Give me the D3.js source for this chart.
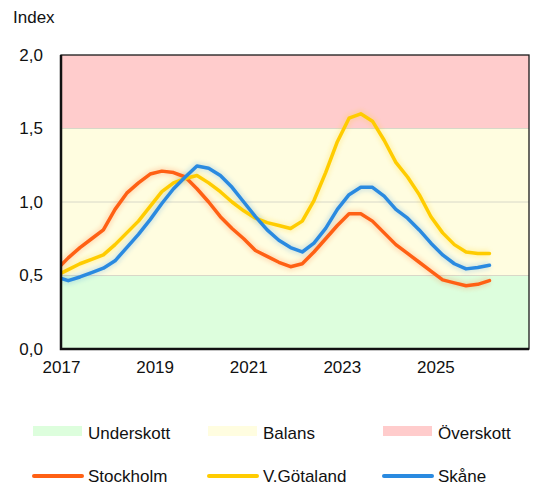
<!DOCTYPE html>
<html>
<head>
<meta charset="utf-8">
<script src="https://cdn.jsdelivr.net/npm/d3@7"></script>
<style>
  html, body { margin: 0; padding: 0; background: #fff; }
  svg { display: block; font-family: "Liberation Sans", Arial, sans-serif; }
</style>
</head>
<body>
<svg id="chart" width="549" height="486"></svg>
<script>
// quarters, plotted mid-quarter
const quarters = [
  '2016K4',
  '2017K1','2017K2','2017K3','2017K4','2018K1','2018K2','2018K3','2018K4',
  '2019K1','2019K2','2019K3','2019K4','2020K1','2020K2','2020K3','2020K4',
  '2021K1','2021K2','2021K3','2021K4','2022K1','2022K2','2022K3','2022K4',
  '2023K1','2023K2','2023K3','2023K4','2024K1','2024K2','2024K3','2024K4',
  '2025K1','2025K2','2025K3','2025K4','2026K1'
];

const stockholm = [0.54, 0.62, 0.69, 0.75, 0.81, 0.95, 1.06, 1.13, 1.19, 1.21, 1.20, 1.17,
  1.09, 1.00, 0.90, 0.82, 0.75, 0.67, 0.63, 0.59, 0.56, 0.58, 0.66, 0.75, 0.84, 0.92,
  0.92, 0.87, 0.79, 0.71, 0.65, 0.59, 0.53, 0.47, 0.45, 0.43, 0.44, 0.465];
const vgotaland = [0.50, 0.54, 0.58, 0.61, 0.64, 0.71, 0.79, 0.87, 0.97, 1.07, 1.13, 1.16,
  1.18, 1.13, 1.07, 1.00, 0.94, 0.89, 0.86, 0.84, 0.82, 0.87, 1.01, 1.20, 1.41, 1.57,
  1.60, 1.55, 1.42, 1.27, 1.17, 1.05, 0.90, 0.79, 0.71, 0.66, 0.65, 0.65];
const skane = [0.49, 0.465, 0.49, 0.52, 0.55, 0.60, 0.69, 0.78, 0.88, 0.99, 1.09, 1.17,
  1.245, 1.23, 1.18, 1.10, 1.00, 0.90, 0.81, 0.74, 0.69, 0.66, 0.72, 0.82, 0.95, 1.05,
  1.10, 1.10, 1.04, 0.95, 0.89, 0.81, 0.72, 0.64, 0.58, 0.545, 0.555, 0.57];

// zones: [from, to]
const zoneNames  = ['Underskott', 'Balans', 'Överskott'];
const zoneLimits = [[0, 0.5], [0.5, 1.5], [1.5, 2.0]];
const zoneColors = ['#ddfedd', '#fffde0', '#ffcccc'];

const seriesNames  = ['Stockholm', 'V.Götaland', 'Skåne'];
const seriesColors = ['#ff6014', '#ffcc00', '#2a8ae0'];
const seriesData   = [stockholm, vgotaland, skane];

const yTicks = [0, 0.5, 1.0, 1.5, 2.0];
const xTicks = [2017, 2019, 2021, 2023, 2025];

// ---------------------------------------------------------------------------
const svg = d3.select('#chart');
const L = 61, R = 529, T = 55, B = 349;

const x = d3.scaleLinear().domain([2017, 2027]).range([L, R]);
const y = d3.scaleLinear().domain([0, 2]).range([B, T]);
const sv = d3.formatLocale({ decimal: ',', thousands: ' ', grouping: [3], currency: ['', ' kr'] });
const fmt = sv.format('.1f');

const qTime = q => +q.slice(0, 4) + (+q.slice(5) - 1) / 4 + 0.155;

const defs = svg.append('defs');
defs.append('clipPath').attr('id', 'plot')
  .append('rect').attr('x', L).attr('y', T).attr('width', R - L).attr('height', B - T);
defs.append('filter').attr('id', 'glow').attr('x', '-10%').attr('y', '-10%').attr('width', '120%').attr('height', '120%')
  .append('feGaussianBlur').attr('stdDeviation', 2);

// zones
svg.append('g').selectAll('rect').data(zoneLimits).join('rect')
  .attr('x', L).attr('width', R - L)
  .attr('y', d => y(d[1])).attr('height', d => y(d[0]) - y(d[1]))
  .attr('fill', (d, i) => zoneColors[i]);

// gridlines
svg.append('g').selectAll('line').data(yTicks.slice(1, -1)).join('line')
  .attr('x1', L).attr('x2', R).attr('y1', d => y(d)).attr('y2', d => y(d))
  .attr('stroke', '#d8d8c8').attr('stroke-width', 1);

// lines
const line = d3.line().x((d, i) => x(qTime(quarters[i]))).y(d => y(d));
const lg = svg.append('g').attr('clip-path', 'url(#plot)');
seriesData.forEach((s, i) => {
  lg.append('path').attr('d', line(s)).attr('fill', 'none')
    .attr('stroke', seriesColors[i]).attr('stroke-width', 8).attr('opacity', 0.18)
    .attr('filter', 'url(#glow)');
});
seriesData.forEach((s, i) => {
  lg.append('path').attr('d', line(s)).attr('fill', 'none')
    .attr('stroke', seriesColors[i]).attr('stroke-width', 3.5)
    .attr('stroke-linejoin', 'round').attr('stroke-linecap', 'round');
});

// frame
svg.append('rect').attr('x', L).attr('y', T).attr('width', R - L).attr('height', B - T)
  .attr('fill', 'none').attr('stroke', '#1a1a1a').attr('stroke-width', 1.3);
svg.append('path').attr('d', `M${L},${T}V${B}H${R}`)
  .attr('fill', 'none').attr('stroke', '#111').attr('stroke-width', 2.5);

// axes
const yAxis = svg.append('g').attr('transform', `translate(${L},0)`)
  .call(d3.axisLeft(y).tickValues(yTicks).tickFormat(fmt).tickSize(0).tickPadding(18));
const xAxis = svg.append('g').attr('transform', `translate(0,${B})`)
  .call(d3.axisBottom(x).tickValues(xTicks).tickFormat(d3.format('d')).tickSize(0).tickPadding(12));
[yAxis, xAxis].forEach(a => {
  a.select('.domain').remove();
  a.selectAll('text').attr('font-size', 17).attr('fill', '#111')
    .attr('font-family', '"Liberation Sans", Arial, sans-serif');
});

svg.append('text').attr('x', 13).attr('y', 23).attr('font-size', 17).attr('fill', '#111').text('Index');

// legend
const legX = [33, 208, 383];
const lz = svg.append('g');
zoneNames.forEach((n, i) => {
  lz.append('rect').attr('x', legX[i]).attr('y', 426).attr('width', 49).attr('height', 10)
    .attr('fill', zoneColors[i]);
  lz.append('text').attr('x', legX[i] + 55).attr('y', 438.5).attr('font-size', 17).attr('fill', '#111').text(n);
});
seriesNames.forEach((n, i) => {
  lz.append('line').attr('x1', legX[i] + 1).attr('x2', legX[i] + 49).attr('y1', 476).attr('y2', 476)
    .attr('stroke', seriesColors[i]).attr('stroke-width', 4).attr('stroke-linecap', 'round');
  lz.append('text').attr('x', legX[i] + 55).attr('y', 482).attr('font-size', 17).attr('fill', '#111').text(n);
});
</script>
</body>
</html>
